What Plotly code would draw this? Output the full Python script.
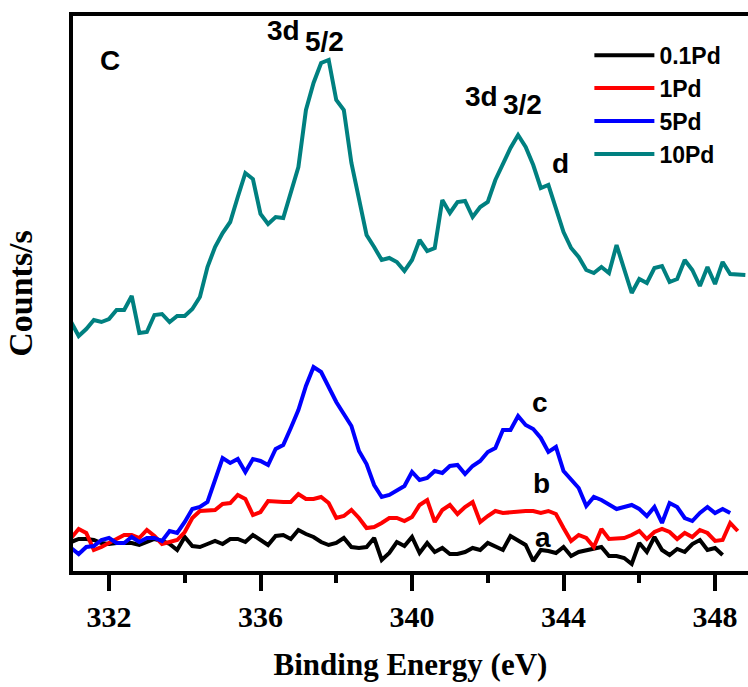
import plotly.graph_objects as go

# Binding energy grid (eV), 0.2 eV steps
energy = [round(331.0 + 0.2 * i, 1) for i in range(90)]

# Counts (arbitrary units)
pd10 = [251, 237, 244, 253, 251, 254, 263, 263, 277, 240,
        241, 258, 259, 251, 257, 257, 264, 276, 306, 326,
        340, 351, 376, 400, 394, 359, 349, 356, 355, 380,
        406, 463, 490, 510, 513, 473, 463, 410, 373, 338,
        326, 313, 315, 311, 302, 313, 333, 322, 325, 373,
        360, 371, 372, 356, 366, 371, 393, 410, 425, 438,
        426, 408, 385, 388, 366, 341, 325, 316, 303, 300,
        306, 300, 328, 305, 280, 294, 290, 305, 307, 291,
        294, 313, 303, 287, 306, 289, 311, 299, 299, 298]

pd5 = [25, 19, 26, 27, 33, 35, 30, 30, 36, 31,
       35, 35, 32, 42, 40, 51, 64, 66, 71, 93,
       115, 110, 114, 101, 114, 112, 108, 124, 128, 145,
       163, 187, 206, 201, 186, 171, 159, 147, 122, 109,
       88, 76, 78, 83, 87, 101, 93, 95, 102, 100,
       107, 108, 99, 107, 112, 121, 125, 143, 143, 157,
       148, 144, 135, 121, 126, 102, 93, 85, 67, 76,
       73, 69, 64, 66, 68, 64, 57, 66, 50, 70,
       66, 55, 52, 60, 66, 60, 64, 60]

pd1 = [35, 44, 40, 23, 26, 30, 35, 38, 38, 35,
       43, 37, 29, 31, 33, 41, 55, 62, 62, 63,
       69, 70, 78, 74, 58, 61, 72, 71, 71, 71,
       79, 74, 74, 76, 70, 55, 57, 63, 55, 45,
       46, 50, 55, 55, 52, 56, 68, 73, 51, 63,
       68, 59, 66, 71, 51, 57, 62, 60, 61, 62,
       62, 62, 60, 62, 59, 45, 32, 38, 35, 26,
       44, 34, 35, 35, 38, 42, 34, 41, 44, 41,
       34, 40, 36, 43, 40, 32, 33, 50, 42]

pd01 = [31, 34, 34, 33, 30, 29, 30, 30, 30, 28,
        31, 34, 32, 29, 23, 36, 27, 26, 29, 32,
        29, 34, 34, 31, 38, 33, 28, 37, 38, 34,
        43, 39, 36, 31, 28, 30, 35, 26, 25, 26,
        35, 13, 20, 31, 27, 36, 20, 30, 21, 25,
        19, 19, 21, 25, 23, 30, 26, 23, 37, 33,
        28, 12, 23, 22, 20, 26, 17, 21, 23, 25,
        26, 17, 17, 15, 9, 30, 21, 36, 23, 18,
        24, 21, 29, 33, 23, 25, 18]

series_names = ["0.1Pd", "1Pd", "5Pd", "10Pd"]
series_values = [pd01, pd1, pd5, pd10]
series_colors = ["#000000", "#FF0000", "#0000FF", "#008080"]

x_ticks = [332, 336, 340, 344, 348]

fig = go.Figure()
for name, vals, col in zip(series_names, series_values, series_colors):
    fig.add_trace(go.Scatter(
        x=energy[:len(vals)], y=vals, mode="lines", name=name,
        line=dict(color=col, width=4),
    ))

serif = "Times New Roman, Liberation Serif, serif"
sans = "Arial, Liberation Sans, sans-serif"

fig.update_layout(
    width=748, height=687,
    margin=dict(l=73, r=0, t=16, b=116),
    plot_bgcolor="white", paper_bgcolor="white",
    showlegend=True,
    legend=dict(
        x=0.765, y=0.968, xanchor="left", yanchor="top",
        font=dict(family=sans, size=23, color="black", weight="bold"),
        bgcolor="rgba(0,0,0,0)", itemwidth=60, tracegroupgap=0,
    ),
    xaxis=dict(
        range=[331.05, 348.87],
        tickvals=x_ticks, ticks="outside", ticklen=16, tickwidth=4, tickcolor="black",
        minor=dict(dtick=2, tick0=332, ticks="outside", ticklen=8, tickwidth=4, tickcolor="black"),
        showline=True, linewidth=4, linecolor="black", mirror=True,
        showgrid=False, zeroline=False,
        tickfont=dict(family=serif, size=30, color="black", weight="bold"),
        title=dict(text="Binding Energy (eV)", standoff=22,
                   font=dict(family=serif, size=31, color="black", weight="bold")),
    ),
    yaxis=dict(
        range=[2, 557],
        showticklabels=False, ticks="",
        showline=True, linewidth=4, linecolor="black", mirror=False,
        showgrid=False, zeroline=False,
        title=dict(text="Counts/s", standoff=27,
                   font=dict(family=serif, size=34, color="black", weight="bold")),
    ),
)

labels = [
    ("C", 332.03, 513),
    ("3d", 336.61, 543),
    ("5/2", 337.68, 532),
    ("3d", 341.83, 477),
    ("3/2", 342.92, 469),
    ("d", 343.91, 410),
    ("c", 343.38, 171),
    ("b", 343.41, 90),
    ("a", 343.46, 36),
]
for txt, lx, ly in labels:
    fig.add_annotation(x=lx, y=ly, xref="x", yref="y", text=txt, showarrow=False,
                       font=dict(family=sans, size=28, color="black", weight="bold"))

fig.write_html("out.html")
